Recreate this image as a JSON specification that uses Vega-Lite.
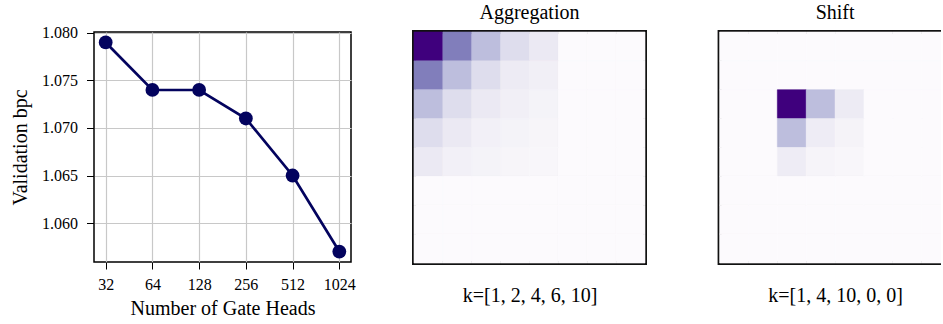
{
  "$schema": "https://vega.github.io/schema/vega-lite/v6.json",
  "padding": {"left": 9, "top": 0, "right": -12, "bottom": 2},
  "background": "white",
  "config": {
    "font": "Liberation Serif",
    "axis": {"labelFont": "Liberation Serif", "titleFont": "Liberation Serif", "labelColor": "black", "titleColor": "black", "titleFontWeight": "normal"},
    "title": {"font": "Liberation Serif", "fontWeight": "normal", "fontSize": 20, "color": "black"}
  },
  "datasets": {
    "heads": [
      {"heads": "32", "bpc": 1.079},
      {"heads": "64", "bpc": 1.074},
      {"heads": "128", "bpc": 1.074},
      {"heads": "256", "bpc": 1.071},
      {"heads": "512", "bpc": 1.065},
      {"heads": "1024", "bpc": 1.057}
    ],
    "agg": [
      {"row": 0, "col": 0, "v": 1.0}, {"row": 0, "col": 1, "v": 0.62}, {"row": 0, "col": 2, "v": 0.37}, {"row": 0, "col": 3, "v": 0.23}, {"row": 0, "col": 4, "v": 0.15}, {"row": 0, "col": 5, "v": 0.005}, {"row": 0, "col": 6, "v": 0.005}, {"row": 0, "col": 7, "v": 0.005},
      {"row": 1, "col": 0, "v": 0.62}, {"row": 1, "col": 1, "v": 0.37}, {"row": 1, "col": 2, "v": 0.23}, {"row": 1, "col": 3, "v": 0.14}, {"row": 1, "col": 4, "v": 0.11}, {"row": 1, "col": 5, "v": 0.005}, {"row": 1, "col": 6, "v": 0.005}, {"row": 1, "col": 7, "v": 0.005},
      {"row": 2, "col": 0, "v": 0.37}, {"row": 2, "col": 1, "v": 0.23}, {"row": 2, "col": 2, "v": 0.15}, {"row": 2, "col": 3, "v": 0.11}, {"row": 2, "col": 4, "v": 0.075}, {"row": 2, "col": 5, "v": 0.005}, {"row": 2, "col": 6, "v": 0.005}, {"row": 2, "col": 7, "v": 0.005},
      {"row": 3, "col": 0, "v": 0.23}, {"row": 3, "col": 1, "v": 0.15}, {"row": 3, "col": 2, "v": 0.1}, {"row": 3, "col": 3, "v": 0.075}, {"row": 3, "col": 4, "v": 0.055}, {"row": 3, "col": 5, "v": 0.005}, {"row": 3, "col": 6, "v": 0.005}, {"row": 3, "col": 7, "v": 0.005},
      {"row": 4, "col": 0, "v": 0.15}, {"row": 4, "col": 1, "v": 0.1}, {"row": 4, "col": 2, "v": 0.075}, {"row": 4, "col": 3, "v": 0.055}, {"row": 4, "col": 4, "v": 0.04}, {"row": 4, "col": 5, "v": 0.005}, {"row": 4, "col": 6, "v": 0.005}, {"row": 4, "col": 7, "v": 0.005},
      {"row": 5, "col": 0, "v": 0.005}, {"row": 5, "col": 1, "v": 0.005}, {"row": 5, "col": 2, "v": 0.005}, {"row": 5, "col": 3, "v": 0.005}, {"row": 5, "col": 4, "v": 0.005}, {"row": 5, "col": 5, "v": 0.005}, {"row": 5, "col": 6, "v": 0.005}, {"row": 5, "col": 7, "v": 0.005},
      {"row": 6, "col": 0, "v": 0.005}, {"row": 6, "col": 1, "v": 0.005}, {"row": 6, "col": 2, "v": 0.005}, {"row": 6, "col": 3, "v": 0.005}, {"row": 6, "col": 4, "v": 0.005}, {"row": 6, "col": 5, "v": 0.005}, {"row": 6, "col": 6, "v": 0.005}, {"row": 6, "col": 7, "v": 0.005},
      {"row": 7, "col": 0, "v": 0.005}, {"row": 7, "col": 1, "v": 0.005}, {"row": 7, "col": 2, "v": 0.005}, {"row": 7, "col": 3, "v": 0.005}, {"row": 7, "col": 4, "v": 0.005}, {"row": 7, "col": 5, "v": 0.005}, {"row": 7, "col": 6, "v": 0.005}, {"row": 7, "col": 7, "v": 0.005}
    ],
    "shift": [
      {"row": 0, "col": 0, "v": 0.005}, {"row": 0, "col": 1, "v": 0.005}, {"row": 0, "col": 2, "v": 0.005}, {"row": 0, "col": 3, "v": 0.005}, {"row": 0, "col": 4, "v": 0.005}, {"row": 0, "col": 5, "v": 0.005}, {"row": 0, "col": 6, "v": 0.005}, {"row": 0, "col": 7, "v": 0.005},
      {"row": 1, "col": 0, "v": 0.005}, {"row": 1, "col": 1, "v": 0.005}, {"row": 1, "col": 2, "v": 0.005}, {"row": 1, "col": 3, "v": 0.005}, {"row": 1, "col": 4, "v": 0.005}, {"row": 1, "col": 5, "v": 0.005}, {"row": 1, "col": 6, "v": 0.005}, {"row": 1, "col": 7, "v": 0.005},
      {"row": 2, "col": 0, "v": 0.005}, {"row": 2, "col": 1, "v": 0.005}, {"row": 2, "col": 2, "v": 1.0}, {"row": 2, "col": 3, "v": 0.37}, {"row": 2, "col": 4, "v": 0.14}, {"row": 2, "col": 5, "v": 0.005}, {"row": 2, "col": 6, "v": 0.005}, {"row": 2, "col": 7, "v": 0.005},
      {"row": 3, "col": 0, "v": 0.005}, {"row": 3, "col": 1, "v": 0.005}, {"row": 3, "col": 2, "v": 0.37}, {"row": 3, "col": 3, "v": 0.13}, {"row": 3, "col": 4, "v": 0.07}, {"row": 3, "col": 5, "v": 0.005}, {"row": 3, "col": 6, "v": 0.005}, {"row": 3, "col": 7, "v": 0.005},
      {"row": 4, "col": 0, "v": 0.005}, {"row": 4, "col": 1, "v": 0.005}, {"row": 4, "col": 2, "v": 0.13}, {"row": 4, "col": 3, "v": 0.065}, {"row": 4, "col": 4, "v": 0.04}, {"row": 4, "col": 5, "v": 0.005}, {"row": 4, "col": 6, "v": 0.005}, {"row": 4, "col": 7, "v": 0.005},
      {"row": 5, "col": 0, "v": 0.005}, {"row": 5, "col": 1, "v": 0.005}, {"row": 5, "col": 2, "v": 0.005}, {"row": 5, "col": 3, "v": 0.005}, {"row": 5, "col": 4, "v": 0.005}, {"row": 5, "col": 5, "v": 0.005}, {"row": 5, "col": 6, "v": 0.005}, {"row": 5, "col": 7, "v": 0.005},
      {"row": 6, "col": 0, "v": 0.005}, {"row": 6, "col": 1, "v": 0.005}, {"row": 6, "col": 2, "v": 0.005}, {"row": 6, "col": 3, "v": 0.005}, {"row": 6, "col": 4, "v": 0.005}, {"row": 6, "col": 5, "v": 0.005}, {"row": 6, "col": 6, "v": 0.005}, {"row": 6, "col": 7, "v": 0.005},
      {"row": 7, "col": 0, "v": 0.005}, {"row": 7, "col": 1, "v": 0.005}, {"row": 7, "col": 2, "v": 0.005}, {"row": 7, "col": 3, "v": 0.005}, {"row": 7, "col": 4, "v": 0.005}, {"row": 7, "col": 5, "v": 0.005}, {"row": 7, "col": 6, "v": 0.005}, {"row": 7, "col": 7, "v": 0.005}
    ]
  },
  "bounds": "flush",
  "spacing": 63,
  "hconcat": [
    {
      "width": 257,
      "height": 230,
      "view": {"stroke": "black", "strokeWidth": 1.5},
      "data": {"name": "heads"},
      "encoding": {
        "x": {
          "field": "heads", "type": "ordinal",
          "sort": ["32", "64", "128", "256", "512", "1024"],
          "scale": {"type": "point", "padding": 0.25},
          "axis": {"title": "Number of Gate Heads", "labelAngle": 0, "labelFontSize": 16, "titleFontSize": 20, "tickColor": "black", "tickSize": 7, "tickWidth": 1, "labelPadding": 7, "titlePadding": 6, "domain": false, "grid": true, "gridColor": "#c8c8c8", "gridWidth": 1.2}
        },
        "y": {
          "field": "bpc", "type": "quantitative",
          "scale": {"domain": [1.0559, 1.0801], "nice": false, "zero": false},
          "axis": {"title": "Validation bpc", "values": [1.06, 1.065, 1.07, 1.075, 1.08], "format": ".3f", "labelFontSize": 16, "titleFontSize": 20, "tickColor": "black", "tickSize": 7.5, "tickWidth": 1, "labelPadding": 9, "titlePadding": 11, "domain": false, "grid": true, "gridColor": "#c8c8c8", "gridWidth": 1.2}
        }
      },
      "layer": [
        {"mark": {"type": "line", "color": "#03035e", "strokeWidth": 2.7}},
        {"mark": {"type": "point", "filled": true, "opacity": 1, "color": "#03035e", "size": 190}}
      ]
    },
    {
      "bounds": "flush",
      "spacing": 74.6,
      "hconcat": [
        {
          "width": 231,
          "height": 231,
          "title": {"text": "Aggregation", "offset": 9},
          "view": {"stroke": "#111111", "strokeWidth": 4},
          "data": {"name": "agg"},
          "mark": {"type": "rect", "strokeWidth": 0.6},
          "encoding": {
            "x": {"field": "col", "type": "ordinal", "scale": {"paddingInner": 0, "paddingOuter": 0}, "axis": {"title": "k=[1, 2, 4, 6, 10]", "labels": false, "ticks": false, "domain": false, "titleFontSize": 20, "titlePadding": 22}},
            "y": {"field": "row", "type": "ordinal", "scale": {"paddingInner": 0, "paddingOuter": 0}, "axis": null},
            "color": {"field": "v", "type": "quantitative", "scale": {"domain": [0, 0.125, 0.25, 0.375, 0.5, 0.625, 0.75, 0.875, 1], "range": ["#fcfbfd", "#efedf5", "#dadaeb", "#bcbddc", "#9e9ac8", "#807dba", "#6a51a3", "#54278f", "#3f007d"]}, "legend": null},
            "stroke": {"field": "v", "type": "quantitative", "scale": {"domain": [0, 0.125, 0.25, 0.375, 0.5, 0.625, 0.75, 0.875, 1], "range": ["#fcfbfd", "#efedf5", "#dadaeb", "#bcbddc", "#9e9ac8", "#807dba", "#6a51a3", "#54278f", "#3f007d"]}, "legend": null}
          }
        },
        {
          "width": 231,
          "height": 231,
          "title": {"text": "Shift", "offset": 9},
          "view": {"stroke": "#111111", "strokeWidth": 4},
          "data": {"name": "shift"},
          "mark": {"type": "rect", "strokeWidth": 0.6},
          "encoding": {
            "x": {"field": "col", "type": "ordinal", "scale": {"paddingInner": 0, "paddingOuter": 0}, "axis": {"title": "k=[1, 4, 10, 0, 0]", "labels": false, "ticks": false, "domain": false, "titleFontSize": 20, "titlePadding": 22}},
            "y": {"field": "row", "type": "ordinal", "scale": {"paddingInner": 0, "paddingOuter": 0}, "axis": null},
            "color": {"field": "v", "type": "quantitative", "scale": {"domain": [0, 0.125, 0.25, 0.375, 0.5, 0.625, 0.75, 0.875, 1], "range": ["#fcfbfd", "#efedf5", "#dadaeb", "#bcbddc", "#9e9ac8", "#807dba", "#6a51a3", "#54278f", "#3f007d"]}, "legend": null},
            "stroke": {"field": "v", "type": "quantitative", "scale": {"domain": [0, 0.125, 0.25, 0.375, 0.5, 0.625, 0.75, 0.875, 1], "range": ["#fcfbfd", "#efedf5", "#dadaeb", "#bcbddc", "#9e9ac8", "#807dba", "#6a51a3", "#54278f", "#3f007d"]}, "legend": null}
          }
        }
      ]
    }
  ]
}
